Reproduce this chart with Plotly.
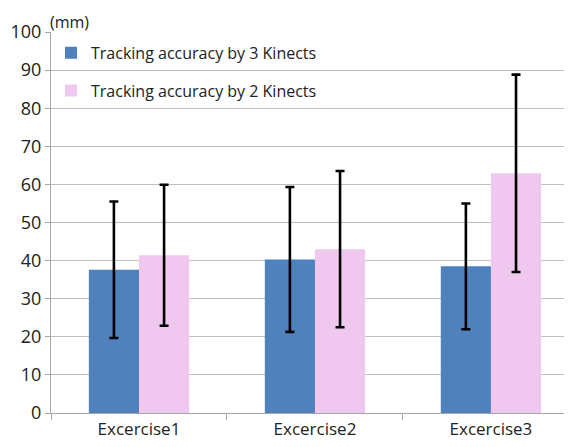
import plotly.graph_objects as go

categories = ["Excercise1", "Excercise2", "Excercise3"]
kinect3_mean = [37.6, 40.3, 38.5]
kinect3_err = [17.9, 19.0, 16.5]
kinect2_mean = [41.4, 43.0, 62.9]
kinect2_err = [18.5, 20.5, 25.9]
series_names = ["Tracking accuracy by 3 Kinects", "Tracking accuracy by 2 Kinects"]
y_ticks = [0, 10, 20, 30, 40, 50, 60, 70, 80, 90, 100]

FONT = "'Open Sans', sans-serif"
err_style = dict(type="data", color="black", thickness=2.6, width=4.5)

fig = go.Figure()
fig.add_trace(go.Bar(
    x=categories, y=kinect3_mean, name=series_names[0],
    marker=dict(color="#4f81bd", line=dict(width=0)),
    error_y=dict(array=kinect3_err, **err_style),
    legendgroup="a",
))
fig.add_trace(go.Bar(
    x=categories, y=kinect2_mean, name=series_names[1],
    marker=dict(color="#f0c8ef", line=dict(width=0)),
    error_y=dict(array=kinect2_err, **err_style),
    legendgroup="b",
))

# page body has an 8px margin, so the figure is offset by (8, 8)
fig.update_layout(
    width=572, height=447,
    margin=dict(l=43, r=0, t=24, b=42),
    paper_bgcolor="white", plot_bgcolor="white",
    barmode="group", bargap=0.43, bargroupgap=0,
    font=dict(family=FONT, color="#222222"),
    showlegend=True,
    legend=dict(
        x=0.0, y=0.99, xanchor="left", yanchor="top",
        bgcolor="rgba(0,0,0,0)", font=dict(size=16, color="#222222"),
        traceorder="grouped", tracegroupgap=14,
        itemwidth=30,
    ),
    xaxis=dict(
        range=[-0.5, 2.506], automargin=False,
        showline=True, linecolor="#a6a6a6", linewidth=1.2,
        ticks="outside", tickson="boundaries", ticklen=6, tickcolor="#a6a6a6",
        tickfont=dict(size=17, color="#222222"),
        showgrid=False,
    ),
    yaxis=dict(
        range=[0, 100], tickvals=y_ticks, automargin=False,
        showline=True, linecolor="#a6a6a6", linewidth=1.2,
        ticks="outside", ticklen=5, tickcolor="#a6a6a6",
        tickfont=dict(size=18, color="#222222"),
        showgrid=True, gridcolor="#bfbfbf", gridwidth=1.3,
        zeroline=False,
    ),
    annotations=[dict(
        text="(mm)", xref="paper", yref="paper", x=0.0, y=1.0,
        xanchor="left", yanchor="bottom", yshift=-2, xshift=-2, showarrow=False,
        font=dict(size=16, color="#222222"), borderpad=0,
    )],
)

fig.write_html("out.html")
